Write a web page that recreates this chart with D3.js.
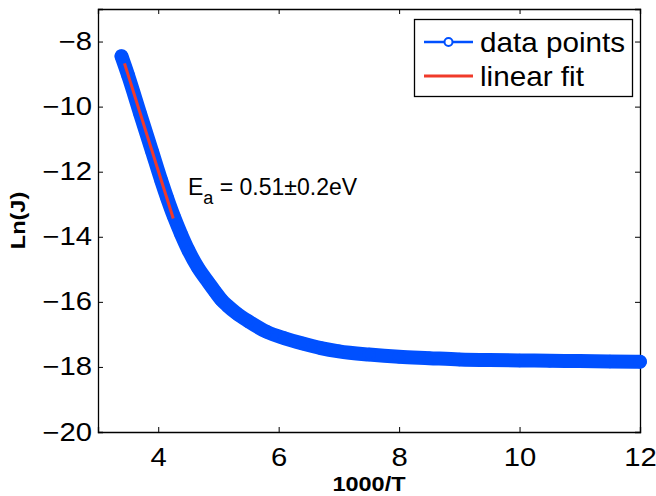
<!DOCTYPE html>
<html>
<head>
<meta charset="utf-8">
<script src="https://cdn.jsdelivr.net/npm/d3@7"></script>
<style>
  html, body { margin: 0; padding: 0; background: #fff; }
  svg { display: block; font-family: "Liberation Sans", Arial, Helvetica, sans-serif; }
</style>
</head>
<body>
<svg id="chart" width="656" height="496"></svg>
<script>
// Arrhenius-style plot: ln(J) against 1000/T
const invT = [3.39, 3.5, 3.7, 3.9, 4.05, 4.15, 4.26, 4.38, 4.5, 4.66, 4.84, 4.95, 5.05, 5.15, 5.3, 5.5, 5.8,
              6.1, 6.4, 6.7, 7.0, 7.5, 8.0, 8.5, 9.0, 9.5, 10.0, 10.5, 11.0, 11.5, 12.0];
const lnJ  = [-8.45, -9.04, -10.22, -11.39, -12.27, -12.82, -13.38, -13.92, -14.41, -14.95, -15.42, -15.7, -15.94, -16.12, -16.35, -16.6, -16.92,
              -17.12, -17.28, -17.42, -17.52, -17.62, -17.69, -17.73, -17.77, -17.79, -17.8, -17.81, -17.82, -17.83, -17.84];

// end points of the straight-line fit over the high-temperature part
const fitX = [3.44, 4.25];
const fitY = [-8.67, -13.44];

const xTicks = [4, 6, 8, 10, 12];
const yTicks = [-20, -18, -16, -14, -12, -10, -8];
const xDomain = [3, 12];
const yDomain = [-20, -7];

const legendLabels = ["data points", "linear fit"];
const annotation = { main: "E", sub: "a", rest: " = 0.51\u00B10.2eV" };

const blue = "#0050ff";
const red = "#f03a2a";
const stretch = 1.17; // wide Helvetica-like lettering

const svg = d3.select("#chart");
const m = { left: 98, right: 16, top: 9, bottom: 64 };
const W = 656, H = 496;
const x = d3.scaleLinear().domain(xDomain).range([m.left, W - m.right]);
const y = d3.scaleLinear().domain(yDomain).range([H - m.bottom, m.top]);

const minus = s => String(s).replace("-", "\u2212");

// axes with inward ticks on all four sides
const gx = svg.append("g").attr("transform", `translate(0,${y(yDomain[0])})`)
  .call(d3.axisBottom(x).tickValues(xTicks).tickSize(-5).tickPadding(16).tickFormat(d => d));
const gxt = svg.append("g").attr("transform", `translate(0,${y(yDomain[1])})`)
  .call(d3.axisTop(x).tickValues(xTicks).tickSize(-5).tickFormat(""));
const gy = svg.append("g").attr("transform", `translate(${x(xDomain[0])},0)`)
  .call(d3.axisLeft(y).tickValues(yTicks).tickSize(-5).tickPadding(6).tickFormat(minus));
const gyr = svg.append("g").attr("transform", `translate(${x(xDomain[1])},0)`)
  .call(d3.axisRight(y).tickValues(yTicks).tickSize(-5).tickFormat(""));

[gx, gxt, gy, gyr].forEach(g => {
  g.select(".domain").attr("stroke", "#000").attr("stroke-width", 1.3);
  g.selectAll(".tick line").attr("stroke", "#000").attr("stroke-width", 1);
  g.selectAll(".tick text").attr("font-size", 25).attr("fill", "#000")
    .attr("font-family", "Liberation Sans, Arial, sans-serif")
    .attr("x", function () { return +d3.select(this).attr("x") / stretch; })
    .attr("transform", `scale(${stretch},1)`);
});

// data series: markers are so dense they merge into a solid band
const pts = invT.map((v, i) => [v, lnJ[i]]);
const line = d3.line().x(d => x(d[0])).y(d => y(d[1])).curve(d3.curveMonotoneX);
svg.append("path").datum(pts).attr("d", line)
  .attr("fill", "none").attr("stroke", blue).attr("stroke-width", 14)
  .attr("stroke-linecap", "round").attr("stroke-linejoin", "round");
svg.append("g").selectAll("circle").data(pts).join("circle")
  .attr("cx", d => x(d[0])).attr("cy", d => y(d[1])).attr("r", 5.5)
  .attr("fill", "none").attr("stroke", blue).attr("stroke-width", 2.5);

// linear fit
svg.append("line")
  .attr("x1", x(fitX[0])).attr("y1", y(fitY[0]))
  .attr("x2", x(fitX[1])).attr("y2", y(fitY[1]))
  .attr("stroke", red).attr("stroke-width", 3);

// activation energy annotation
const ann = svg.append("text").attr("x", 188).attr("y", 195)
  .attr("font-size", 23).attr("fill", "#000");
ann.append("tspan").text(annotation.main);
ann.append("tspan").attr("font-size", 18).attr("dy", 9).text(annotation.sub);
ann.append("tspan").attr("dy", -9).text(annotation.rest);

// axis labels
svg.append("text")
  .attr("transform", `translate(${(x(xDomain[0]) + x(xDomain[1])) / 2},491) scale(1.12,1)`)
  .attr("text-anchor", "middle").attr("font-size", 21).attr("font-weight", "bold")
  .text("1000/T");
svg.append("text")
  .attr("transform", `translate(25,${(y(yDomain[0]) + y(yDomain[1])) / 2}) rotate(-90) scale(1.12,1)`)
  .attr("text-anchor", "middle").attr("font-size", 21).attr("font-weight", "bold")
  .text("Ln(J)");

// legend
const lg = svg.append("g");
lg.append("rect").attr("x", 414.5).attr("y", 19.5).attr("width", 218).attr("height", 77)
  .attr("fill", "#fff").attr("stroke", "#000").attr("stroke-width", 1.3);
const rows = [42, 76];
lg.append("line").attr("x1", 424).attr("x2", 473).attr("y1", rows[0]).attr("y2", rows[0])
  .attr("stroke", blue).attr("stroke-width", 2.5);
lg.append("circle").attr("cx", 448.5).attr("cy", rows[0]).attr("r", 4)
  .attr("fill", "#fff").attr("stroke", blue).attr("stroke-width", 2);
lg.append("line").attr("x1", 424).attr("x2", 473).attr("y1", rows[1]).attr("y2", rows[1])
  .attr("stroke", red).attr("stroke-width", 3);
lg.selectAll("text.lbl").data(legendLabels).join("text").attr("class", "lbl")
  .attr("transform", (d, i) => `translate(480,${rows[i] + 10}) scale(1.06,1)`)
  .attr("font-size", 28).attr("fill", "#000").text(d => d);
</script>
</body>
</html>
